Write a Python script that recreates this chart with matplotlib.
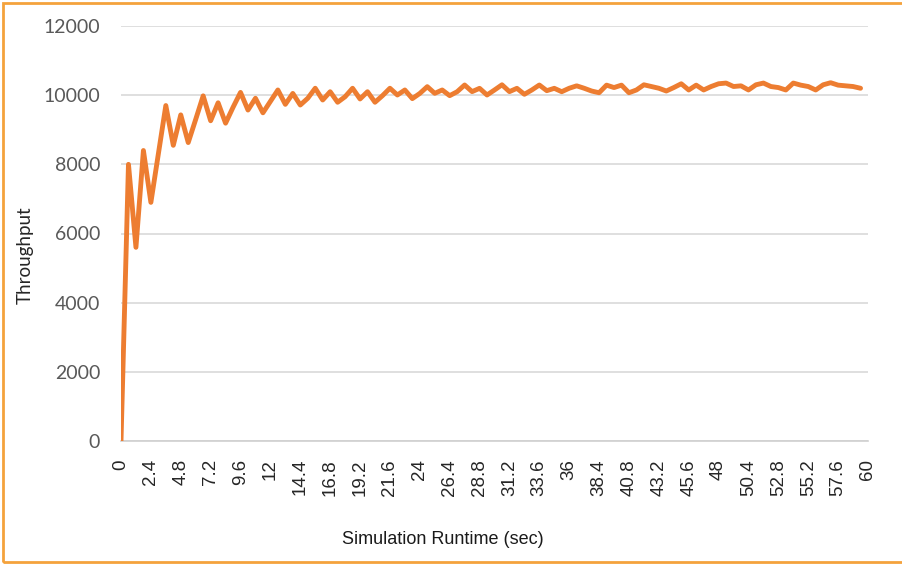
import numpy as np
import matplotlib.pyplot as plt
from matplotlib.patches import Rectangle

# throughput sampled every 0.6 sec
step = 0.6
throughput = [
    0, 8000, 5600, 8400, 6900, 8300, 9700, 8550, 9430, 8630,
    9300, 9980, 9260, 9780, 9190, 9650, 10080, 9570, 9910, 9490,
    9820, 10150, 9735, 10050, 9715, 9910, 10200, 9860, 10100, 9795,
    9955, 10200, 9890, 10100, 9795, 9985, 10200, 10005, 10150, 9900,
    10050, 10246, 10053, 10150, 9986, 10100, 10294, 10102, 10198, 10005,
    10150, 10300, 10102, 10198, 10025, 10150, 10294, 10130, 10198, 10100,
    10200, 10270, 10200, 10120, 10070, 10290, 10220, 10290, 10070, 10150,
    10300, 10250, 10200, 10120, 10220, 10330, 10150, 10290, 10150, 10250,
    10330, 10350, 10250, 10270, 10150, 10300, 10350, 10250, 10220, 10150,
    10350, 10290, 10250, 10150, 10300, 10360, 10290, 10270, 10250, 10200,
]
runtime = [round(i * step, 1) for i in range(len(throughput))]

xticks = [round(i * 2.4, 1) for i in range(26)]
xtick_labels = ['%g' % v for v in xticks]
yticks = [0, 2000, 4000, 6000, 8000, 10000, 12000]

fig = plt.figure(figsize=(9.03, 5.65), dpi=100)
ax = fig.add_axes([121/903, 1-441/565, (868-121)/903, (441-26)/565])

ax.plot(runtime, throughput, color='#ED7D31', lw=3.5, solid_joinstyle='round', solid_capstyle='round', zorder=3)

ax.set_xlim(0, 60)
ax.set_ylim(0, 12000)
ax.set_xticks(xticks)
ax.set_xticklabels(xtick_labels, rotation=90, fontsize=13.5, family='Liberation Sans', color='#262626')
ax.set_yticks(yticks)
ax.set_yticklabels([str(v) for v in yticks], fontsize=14, family='Lato', color='#595959')
ax.tick_params(axis='x', length=0, pad=13)
ax.tick_params(axis='y', length=0, pad=15)

ax.grid(axis='y', color='#d9d9d9', lw=1.2)
ax.set_axisbelow(True)
for s in ['top', 'right', 'left']:
    ax.spines[s].set_visible(False)
ax.spines['bottom'].set_color('#d0d0d0')
ax.spines['bottom'].set_linewidth(1.2)

fig.text(25/903, 1-255/565, 'Throughput', rotation=90, ha='center', va='center',
         fontsize=13.5, family='Lato', color='#262626')
fig.text(443/903, 1-540/565, 'Simulation Runtime (sec)', ha='center', va='center',
         fontsize=13, family='Liberation Sans', color='#1a1a1a')

# orange frame round the picture
fig.patches.append(Rectangle((3/903, 3/565), 1.05, 1-6/565, transform=fig.transFigure,
                             fill=False, edgecolor='#F4A23C', lw=2))

fig.savefig('out.png', dpi=100)
